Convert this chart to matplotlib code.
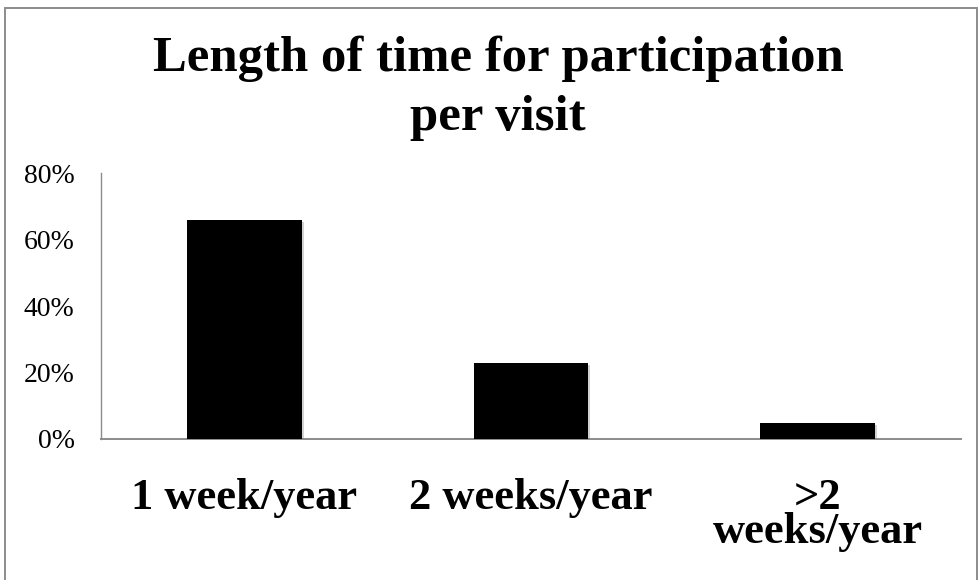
import matplotlib
matplotlib.use('Agg')
import matplotlib.pyplot as plt
import matplotlib.patheffects as pe
from matplotlib.patches import Rectangle
from matplotlib.ticker import PercentFormatter

# data
categories = ['1 week/year', '2 weeks/year', '>2\nweeks/year']
shares = [0.66, 0.23, 0.047]
title = 'Length of time for participation\nper visit'

plt.rcParams['font.family'] = ['Liberation Serif', 'DejaVu Serif']

fig = plt.figure(figsize=(9.79, 5.8), dpi=100)
ax = fig.add_axes([101/979, 1 - 439/580, 860/979, 266/580])

# bars
bars = ax.bar(range(len(categories)), shares, width=0.4, color='black', zorder=3)
for b in bars:
    b.set_path_effects([pe.SimplePatchShadow(offset=(1.5, -1.5), shadow_rgbFace='gray', alpha=0.35),
                        pe.Normal()])

ax.set_xlim(-0.5, 2.5)
ax.set_ylim(0, 0.8)
ax.set_yticks([0, 0.2, 0.4, 0.6, 0.8])
ax.yaxis.set_major_formatter(PercentFormatter(1.0, decimals=0))
ax.set_xticks(range(len(categories)))
ax.set_xticklabels(categories, fontsize=32, fontweight='bold', linespacing=0.82)
ax.tick_params(axis='y', length=0, pad=19, labelsize=20)
ax.tick_params(axis='x', length=0, pad=28)

# axes lines
for s in ['top', 'right']:
    ax.spines[s].set_visible(False)
ax.spines['left'].set_color('#8c8c8c')
ax.spines['bottom'].set_color('#8c8c8c')
ax.spines['left'].set_linewidth(1.0)
ax.spines['bottom'].set_linewidth(1.4)

# title
fig.text(498/979, 1 - 36/580, title, ha='center', va='top', fontsize=36.5,
         fontweight='bold', linespacing=1.37)

# chart border
fig.add_artist(Rectangle((5.5/979, -0.05), 971.5/979, 1.05 - 7.5/580, transform=fig.transFigure,
                         fill=False, edgecolor='#8c8c8c', linewidth=1.4))

fig.savefig('out.png', dpi=100)
